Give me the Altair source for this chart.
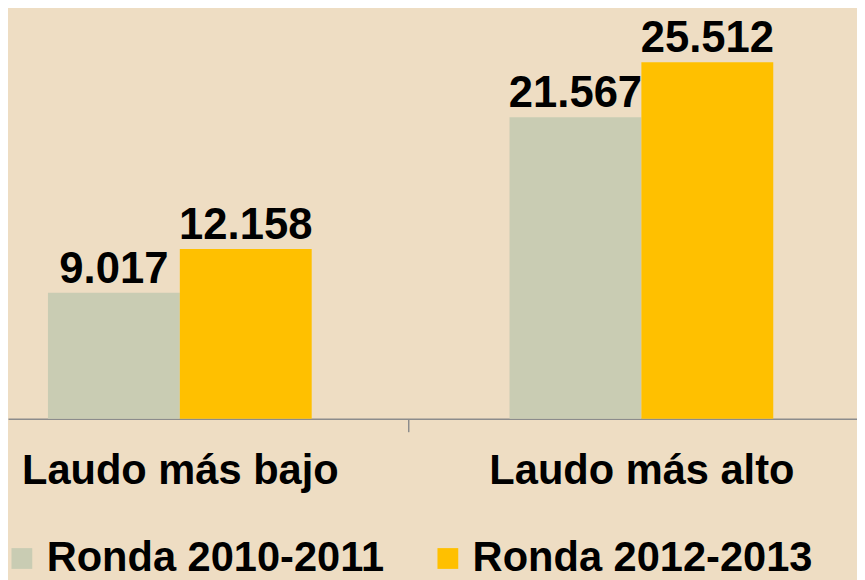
import altair as alt
import pandas as pd

categories = ["Laudo más bajo", "Laudo más alto"]
series = ["Ronda 2010-2011", "Ronda 2012-2013"]
ronda_2010_2011 = [9017, 21567]
ronda_2012_2013 = [12158, 25512]
colors = ["#C9CCB3", "#FFC000"]

rows = []
for s, vals in zip(series, [ronda_2010_2011, ronda_2012_2013]):
    for c, v in zip(categories, vals):
        rows.append({"cat": c, "serie": s, "valor": v,
                     "etiqueta": f"{v:,}".replace(",", ".")})
df = pd.DataFrame(rows)

FONT = "Liberation Sans"

x = alt.X("cat:N", sort=categories,
          scale=alt.Scale(paddingInner=0.4286, paddingOuter=0.134, align=0.323),
          axis=alt.Axis(title=None, labelAngle=0, labelFontSize=42, labelFontWeight="bold",
                        labelColor="black", labelFont=FONT, labelLimit=600,
                        domainColor="#8C8C8C", domainWidth=1.5,
                        tickColor="#8C8C8C", tickWidth=1.5, tickSize=13,
                        tickOffset=231, labelOffset=-231,
                        labelBaseline="alphabetic", labelPadding=52,
                        grid=False))
xo = alt.XOffset("serie:N", sort=series, scale=alt.Scale(paddingInner=0, paddingOuter=0))
y = alt.Y("valor:Q", scale=alt.Scale(domain=[0, 29200]), axis=None)

bars = alt.Chart(df).mark_bar().encode(
    x=x, xOffset=xo, y=y,
    color=alt.Color("serie:N", sort=series,
                    scale=alt.Scale(domain=series, range=colors),
                    legend=alt.Legend(title=None, orient="none", legendX=-7, legendY=532,
                                      direction="horizontal", symbolType="square",
                                      symbolSize=440, symbolStrokeWidth=0,
                                      labelFontSize=42, labelFontWeight="bold",
                                      labelFont=FONT, labelColor="black",
                                      labelLimit=600, labelOffset=4,
                                      columnPadding=43)))

labels = alt.Chart(df).mark_text(baseline="alphabetic", dy=-10, fontSize=44,
                                 fontWeight="bold", font=FONT, color="black").encode(
    x=x, xOffset=xo, y=y, text="etiqueta:N")

chart = (bars + labels).properties(
    width=857, height=412,
    padding={"left": 0, "top": 0, "right": 0, "bottom": 160},
    autosize=alt.AutoSizeParams(type="none"),
).configure(background="#EEDDC3").configure_view(stroke=None)

chart.save("out.html", embed_options={"renderer": "svg", "actions": False})
